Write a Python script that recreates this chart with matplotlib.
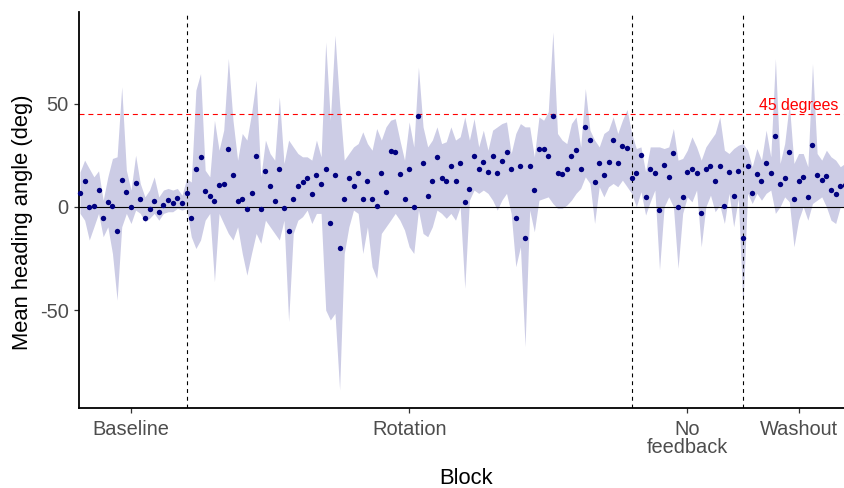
import matplotlib

matplotlib.use("Agg")
import matplotlib.pyplot as plt  # noqa: E402
import numpy as np  # noqa: E402

plt.rcParams["font.family"] = ["Liberation Sans", "DejaVu Sans"]
plt.rcParams["axes.unicode_minus"] = False

# trials 1..166 (the picture is cut at the right edge)
trial = np.arange(1, 167)

mean_angle = [
    # baseline 1-24
    6.5, 12.3, 0.0, 0.6, 8.1, -5.2, 2.3, 0.6, -11.6, 13.2, 7.4, 0.0,
    11.6, 3.7, -5.2, -1.1, 2.7, -2.6, 1.1, 3.2, 1.6, 4.4, 1.6, 6.9,
    # rotation 25-120
    -5.2, 18.1, 23.9, 7.6, 5.3, 2.7, 10.6, 11.1, 28.1, 15.3, 2.7, 3.7,
    -1.0, 6.5, 24.8, -1.0, 17.4, 10.2, 2.7, 18.1, -0.5, -11.5, 3.7, 10.2,
    11.8, 13.9, 6.0, 15.3, 11.1, 18.1, -7.7, 15.3, -20.0, 3.7, 13.9, 10.2,
    16.5, 3.7, 12.3, 3.7, 0.6, 16.5, 7.4, 27.1, 26.5, 16.0, 3.7, 18.1,
    0.0, 43.9, 21.1, 5.3, 12.7, 23.9, 13.9, 12.3, 19.7, 12.7, 21.1, 2.3,
    8.5, 24.8, 18.5, 21.6, 16.9, 24.8, 16.5, 22.3, 26.5, 18.1, -5.6, 19.7,
    -15.2, 19.7, 8.1, 28.2, 28.2, 24.4, 43.9, 16.5, 16.0, 18.1, 24.8, 27.6,
    18.1, 38.7, 32.4, 11.8, 21.1, 15.3, 21.8, 32.4, 21.1, 29.2, 28.7, 13.9,
    # no feedback 121-144
    16.5, 25.3, 4.8, 18.5, 16.5, -1.5, 20.2, 14.4, 26.0, 0.0, 4.8, 16.9,
    18.1, 16.5, -3.1, 18.5, 19.7, 12.3, 19.7, 0.6, 16.9, 5.3, 17.4, -15.2,
    # washout 145-166
    19.7, 6.5, 16.0, 12.7, 21.1, 16.5, 34.4, 11.1, 13.9, 26.5, 3.7, 12.3,
    14.4, 4.8, 29.7, 15.3, 13.2, 14.8, 8.1, 6.0, 10.2, 10.6,
]

upper = [
    16.9, 22.6, 18.5, 14.5, 17.4, 3.2, 14.5, 23.4, 24.2, 58.1, 17.7, 8.1,
    25.0, 11.3, 4.8, 8.1, 14.5, 4.8, 8.1, 8.9, 8.1, 8.9, 5.6, 13.7,
    12.0, 56.5, 64.5, 17.7, 14.5, 41.9, 27.4, 37.1, 71.8, 41.9, 22.6, 35.5,
    32.3, 45.2, 61.3, 14.5, 32.3, 25.8, 22.6, 53.2, 21.0, 32.3, 29.0, 25.8,
    24.2, 24.2, 22.6, 32.3, 24.2, 79.8, 41.9, 83.1, 50.0, 22.6, 25.8, 29.0,
    30.6, 36.3, 30.6, 27.4, 37.9, 32.3, 38.7, 41.9, 42.7, 32.3, 22.6, 41.1,
    29.0, 67.7, 38.7, 29.0, 32.3, 38.7, 30.6, 31.5, 38.7, 32.3, 33.9, 43.5,
    32.3, 42.7, 29.0, 37.1, 27.4, 37.1, 38.7, 40.3, 41.1, 25.8, 35.5, 40.3,
    38.7, 38.7, 24.2, 43.5, 41.9, 46.0, 84.7, 35.5, 32.3, 30.6, 40.3, 43.5,
    29.0, 57.3, 37.1, 32.3, 29.0, 35.5, 37.1, 43.5, 35.5, 41.9, 47.1, 35.5,
    28.2, 29.0, 16.9, 29.0, 29.0, 29.0, 28.2, 29.0, 37.9, 22.6, 23.4, 27.4,
    33.9, 29.0, 22.6, 29.0, 32.3, 35.5, 43.5, 27.4, 25.8, 28.2, 29.8, 30.6,
    27.4, 19.4, 28.2, 22.6, 37.1, 24.2, 71.8, 21.0, 30.6, 50.0, 21.0, 25.8,
    25.8, 19.4, 69.4, 25.8, 22.6, 27.4, 24.2, 22.6, 19.4, 21.0,
]

lower = [
    -3.2, -6.5, -16.1, -9.7, -3.2, -14.5, -9.7, -22.6, -45.2, -9.7, -3.2, -8.1,
    -1.6, -3.2, -7.3, -5.6, -3.2, -6.5, -3.2, -2.4, -2.4, -0.8, -1.6, -0.8,
    -14.5, -20.2, -16.1, -6.5, -3.2, -36.3, -3.2, -8.1, -12.9, -16.1, -9.7, -22.6,
    -33.1, -22.6, -12.9, -17.7, -6.5, -9.7, -12.9, -16.1, -6.5, -55.6, -12.9, -6.5,
    -4.8, -1.6, -8.1, -3.2, -3.2, -50.0, -54.8, -51.6, -88.7, -22.6, -9.7, -1.6,
    -3.2, -22.6, -9.7, -29.0, -34.7, -12.9, -9.7, -6.5, -3.2, -6.5, -11.3, -19.4,
    -22.6, -1.6, -12.9, -14.5, -9.7, -1.6, -3.2, -5.6, -3.2, -6.5, 0.0, -39.5,
    3.2, 8.1, 6.5, 8.1, 6.5, 3.2, -1.6, 3.2, 6.5, -3.2, -29.0, -19.4,
    -67.7, -1.6, -12.1, 3.2, 4.0, 4.8, 1.6, -0.8, -0.8, 0.8, 3.2, 6.5,
    8.9, 14.5, 11.3, -8.1, 9.7, 4.8, 9.7, 11.3, 9.7, 12.9, 9.7, 6.5,
    0.0, 7.3, -4.0, 2.4, 8.1, -30.6, 0.0, 4.8, 0.0, -29.8, -3.2, 4.8,
    2.4, 8.1, -19.4, 0.0, 5.6, -2.4, 0.8, -8.1, 6.5, -9.7, 4.0, -48.4,
    6.5, 1.6, 6.5, 3.2, 6.5, 8.1, -3.2, 0.0, 4.8, 2.4, -19.4, -6.5,
    0.0, -6.5, 1.6, 3.2, 4.8, 0.0, -6.5, -8.1, 0.0, 0.0,
]

block_breaks = [24, 120, 144]
block_ticks = [12, 72, 132, 156]
block_labels = ["Baseline", "Rotation", "No\nfeedback", "Washout"]

W, H = 845, 488
fig = plt.figure(figsize=(W / 100, H / 100), dpi=100)
fig.patch.set_facecolor("white")

# panel: left spine at x=79.3px, bottom at y=408px, top at y=12px
step = 4.636  # px per trial
ax = fig.add_axes([79.3 / W, (H - 408) / H, (W - 79.3) / W, (408 - 12) / H])

ax.fill_between(trial, lower, upper, color="navy", alpha=0.2, linewidth=0)
ax.axhline(0, color="black", lw=0.8, zorder=2)
ax.axhline(45, color="red", lw=0.8, ls=(0, (4.5, 3.5)), zorder=2)
for b in block_breaks:
    ax.axvline(b, color="black", lw=0.8, ls=(0, (3.5, 3.5)), zorder=2)
ax.scatter(trial, mean_angle, s=15, color="navy", linewidths=0, zorder=3, clip_on=False)
ax.text(156, 45.6, "45 degrees", color="red", ha="center", va="bottom", fontsize=11.4)

ax.set_xlim(1 - 0.7 / step, 1 + (W - 80) / step)
ax.set_ylim(-97.4, 94.3)

ax.set_xticks(block_ticks)
ax.set_xticklabels(block_labels, linespacing=0.95)
ax.set_yticks([-50, 0, 50])
ax.tick_params(axis="both", direction="out", length=3.6, width=0.9, color="#333333",
               labelcolor="#4D4D4D", labelsize=14.4)
ax.tick_params(axis="x", pad=5)
ax.tick_params(axis="y", pad=4)

for side in ("top", "right"):
    ax.spines[side].set_visible(False)
for side in ("left", "bottom"):
    ax.spines[side].set_linewidth(1.3)
    ax.spines[side].set_color("black")

fig.text(466 / W, 1 - 478 / H, "Block", ha="center", va="center", fontsize=15.8)
fig.text(23 / W, 1 - 222 / H, "Mean heading angle (deg)", ha="center", va="center",
         rotation=90, fontsize=15.8)

fig.savefig("out.png", dpi=100, facecolor=fig.get_facecolor())
plt.close(fig)
